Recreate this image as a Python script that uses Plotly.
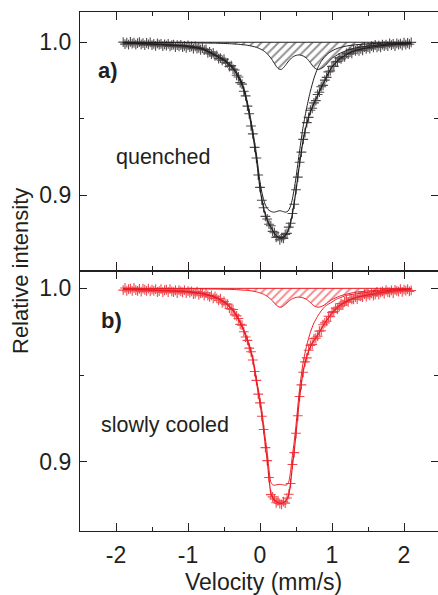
import plotly.graph_objects as go

# ---------------- data ----------------
velocity = [
    -1.900, -1.875, -1.850, -1.825, -1.800, -1.775, -1.750, -1.725, -1.700, -1.675,
    -1.650, -1.625, -1.600, -1.575, -1.550, -1.525, -1.500, -1.475, -1.450, -1.425,
    -1.400, -1.375, -1.350, -1.325, -1.300, -1.275, -1.250, -1.225, -1.200, -1.175,
    -1.150, -1.125, -1.100, -1.075, -1.050, -1.025, -1.000, -0.975, -0.950, -0.925,
    -0.900, -0.875, -0.850, -0.825, -0.800, -0.775, -0.750, -0.725, -0.700, -0.675,
    -0.650, -0.625, -0.600, -0.575, -0.550, -0.525, -0.500, -0.475, -0.450, -0.425,
    -0.400, -0.375, -0.350, -0.325, -0.300, -0.275, -0.250, -0.225, -0.200, -0.175,
    -0.150, -0.125, -0.100, -0.075, -0.050, -0.025, 0.000, 0.025, 0.050, 0.075,
    0.100, 0.125, 0.150, 0.175, 0.200, 0.225, 0.250, 0.275, 0.300, 0.325,
    0.350, 0.375, 0.400, 0.425, 0.450, 0.475, 0.500, 0.525, 0.550, 0.575,
    0.600, 0.625, 0.650, 0.675, 0.700, 0.725, 0.750, 0.775, 0.800, 0.825,
    0.850, 0.875, 0.900, 0.925, 0.950, 0.975, 1.000, 1.025, 1.050, 1.075,
    1.100, 1.125, 1.150, 1.175, 1.200, 1.225, 1.250, 1.275, 1.300, 1.325,
    1.350, 1.375, 1.400, 1.425, 1.450, 1.475, 1.500, 1.525, 1.550, 1.575,
    1.600, 1.625, 1.650, 1.675, 1.700, 1.725, 1.750, 1.775, 1.800, 1.825,
    1.850, 1.875, 1.900, 1.925, 1.950, 1.975, 2.000, 2.025, 2.050, 2.075,
    2.100,
]

quenched_data = [
    1.0001, 0.9988, 0.9997, 0.9984, 1.0002, 0.9991, 0.9997, 0.9984, 0.9994, 1.0001,
    0.9986, 0.9994, 0.9981, 0.9996, 0.9986, 0.9999, 0.9981, 0.9989, 0.9976, 0.9993,
    0.9984, 0.9990, 0.9975, 0.9986, 0.9978, 0.9990, 0.9973, 0.9981, 0.9985, 0.9969,
    0.9981, 0.9973, 0.9983, 0.9969, 0.9976, 0.9963, 0.9979, 0.9968, 0.9973, 0.9958,
    0.9973, 0.9958, 0.9963, 0.9951, 0.9961, 0.9949, 0.9953, 0.9930, 0.9937, 0.9922,
    0.9930, 0.9911, 0.9914, 0.9893, 0.9896, 0.9881, 0.9889, 0.9866, 0.9865, 0.9841,
    0.9847, 0.9824, 0.9818, 0.9784, 0.9773, 0.9736, 0.9726, 0.9679, 0.9649, 0.9582,
    0.9532, 0.9452, 0.9400, 0.9312, 0.9242, 0.9131, 0.9050, 0.8966, 0.8917, 0.8860,
    0.8843, 0.8809, 0.8799, 0.8762, 0.8753, 0.8723, 0.8729, 0.8707, 0.8721, 0.8716,
    0.8742, 0.8749, 0.8790, 0.8815, 0.8879, 0.8940, 0.9035, 0.9117, 0.9215, 0.9281,
    0.9364, 0.9408, 0.9474, 0.9508, 0.9555, 0.9568, 0.9603, 0.9618, 0.9658, 0.9673,
    0.9709, 0.9718, 0.9752, 0.9770, 0.9806, 0.9812, 0.9842, 0.9842, 0.9871, 0.9875,
    0.9898, 0.9891, 0.9906, 0.9905, 0.9927, 0.9922, 0.9936, 0.9928, 0.9950, 0.9943,
    0.9954, 0.9944, 0.9957, 0.9947, 0.9969, 0.9957, 0.9968, 0.9958, 0.9975, 0.9967,
    0.9982, 0.9967, 0.9977, 0.9967, 0.9985, 0.9975, 0.9985, 0.9974, 0.9992, 0.9981,
    0.9990, 0.9975, 0.9993, 0.9985, 0.9991, 0.9980, 0.9998, 0.9984, 0.9996, 0.9987,
    0.9999,
]

slowly_data = [
    0.9990, 1.0002, 0.9985, 0.9996, 0.9999, 0.9986, 1.0002, 0.9990, 0.9986, 0.9997,
    0.9981, 0.9998, 0.9992, 0.9986, 0.9999, 0.9982, 0.9993, 0.9986, 0.9995, 0.9979,
    0.9984, 0.9995, 0.9978, 0.9989, 0.9992, 0.9979, 0.9995, 0.9983, 0.9978, 0.9989,
    0.9973, 0.9990, 0.9983, 0.9977, 0.9990, 0.9973, 0.9984, 0.9976, 0.9983, 0.9967,
    0.9970, 0.9981, 0.9962, 0.9973, 0.9974, 0.9958, 0.9973, 0.9958, 0.9951, 0.9960,
    0.9942, 0.9954, 0.9942, 0.9931, 0.9940, 0.9917, 0.9924, 0.9909, 0.9909, 0.9884,
    0.9879, 0.9878, 0.9847, 0.9841, 0.9826, 0.9792, 0.9788, 0.9750, 0.9719, 0.9700,
    0.9655, 0.9634, 0.9587, 0.9520, 0.9469, 0.9390, 0.9339, 0.9262, 0.9186, 0.9081,
    0.9006, 0.8909, 0.8810, 0.8797, 0.8785, 0.8763, 0.8774, 0.8758, 0.8754, 0.8769,
    0.8761, 0.8790, 0.8812, 0.8874, 0.8984, 0.9052, 0.9164, 0.9265, 0.9376, 0.9443,
    0.9516, 0.9576, 0.9599, 0.9643, 0.9671, 0.9677, 0.9710, 0.9713, 0.9724, 0.9753,
    0.9755, 0.9790, 0.9801, 0.9810, 0.9839, 0.9836, 0.9861, 0.9866, 0.9886, 0.9880,
    0.9894, 0.9913, 0.9903, 0.9922, 0.9931, 0.9922, 0.9944, 0.9936, 0.9936, 0.9950,
    0.9938, 0.9957, 0.9954, 0.9950, 0.9967, 0.9952, 0.9966, 0.9960, 0.9971, 0.9958,
    0.9966, 0.9979, 0.9964, 0.9977, 0.9982, 0.9970, 0.9989, 0.9978, 0.9976, 0.9988,
    0.9973, 0.9991, 0.9986, 0.9981, 0.9996, 0.9980, 0.9993, 0.9987, 0.9996, 0.9982,
    0.9988,
]

fit_velocity = [
    -1.9, -1.6, -1.3, -1.0, -0.8, -0.65, -0.5, -0.45, -0.4, -0.35, -0.3, -0.25, -0.2, -0.15, -0.1, -0.05,
    0.0, 0.025, 0.05, 0.075, 0.1, 0.125, 0.15, 0.175, 0.2, 0.225, 0.25, 0.275, 0.3, 0.325, 0.35, 0.375,
    0.4, 0.425, 0.45, 0.475, 0.5,
    0.55, 0.6, 0.65, 0.7, 0.75, 0.8, 0.85, 0.9, 0.95, 1.0, 1.05, 1.1, 1.2, 1.3, 1.45, 1.6, 1.8, 2.1,
]

quenched_total = [
    0.9995, 0.9990, 0.9982, 0.9972, 0.9955, 0.9920, 0.9880, 0.9860, 0.9840, 0.9810, 0.9770, 0.9720, 0.9640, 0.9530, 0.9393, 0.9237,
    0.9042, 0.8971, 0.8914, 0.8870, 0.8837, 0.8811, 0.8790, 0.8769, 0.8749, 0.8734, 0.8724, 0.8719, 0.8718, 0.8724, 0.8735, 0.8753,
    0.8780, 0.8821, 0.8877, 0.8949, 0.9029,
    0.9207, 0.9360, 0.9469, 0.9546, 0.9600, 0.9651, 0.9703, 0.9750, 0.9798, 0.9838, 0.9865, 0.9889, 0.9920, 0.9942, 0.9960, 0.9972, 0.9983, 0.9991,
]
quenched_main = [
    0.9996, 0.9992, 0.9984, 0.9975, 0.9960, 0.9926, 0.9888, 0.9869, 0.9850, 0.9822, 0.9783, 0.9736, 0.9658, 0.9552, 0.9420, 0.9270,
    0.9085, 0.9020, 0.8970, 0.8935, 0.8912, 0.8900, 0.8893, 0.8889, 0.8888, 0.8891, 0.8895, 0.8897, 0.8895, 0.8891, 0.8888, 0.8890,
    0.8902, 0.8930, 0.8975, 0.9040, 0.9115,
    0.9290, 0.9450, 0.9575, 0.9680, 0.9765, 0.9830, 0.9875, 0.9905, 0.9928, 0.9943, 0.9955, 0.9964, 0.9975, 0.9982, 0.9988, 0.9992, 0.9995, 0.9997,
]
quenched_minor = [
    0.9999, 0.9998, 0.9998, 0.9997, 0.9995, 0.9994, 0.9992, 0.9991, 0.9990, 0.9988, 0.9987, 0.9984, 0.9982, 0.9978, 0.9973, 0.9967,
    0.9957, 0.9951, 0.9944, 0.9935, 0.9925, 0.9911, 0.9897, 0.9880, 0.9861, 0.9843, 0.9829, 0.9822, 0.9823, 0.9833, 0.9847, 0.9863,
    0.9878, 0.9891, 0.9902, 0.9909, 0.9914,
    0.9917, 0.9910, 0.9894, 0.9866, 0.9835, 0.9821, 0.9828, 0.9845, 0.9870, 0.9895, 0.9910, 0.9925, 0.9945, 0.9960, 0.9972, 0.9980, 0.9988, 0.9994,
]

slowly_total = [
    0.9994, 0.9991, 0.9986, 0.9980, 0.9968, 0.9952, 0.9920, 0.9903, 0.9883, 0.9856, 0.9820, 0.9778, 0.9725, 0.9665, 0.9586, 0.9460,
    0.9335, 0.9265, 0.9180, 0.9090, 0.9010, 0.8901, 0.8819, 0.8794, 0.8779, 0.8770, 0.8764, 0.8760, 0.8760, 0.8764, 0.8771, 0.8783,
    0.8811, 0.8879, 0.8975, 0.9060, 0.9160,
    0.9370, 0.9520, 0.9608, 0.9665, 0.9700, 0.9730, 0.9765, 0.9800, 0.9830, 0.9857, 0.9880, 0.9898, 0.9925, 0.9942, 0.9958, 0.9970, 0.9982, 0.9992,
]
slowly_main = [
    0.9995, 0.9992, 0.9987, 0.9982, 0.9971, 0.9956, 0.9925, 0.9909, 0.9889, 0.9863, 0.9828, 0.9788, 0.9736, 0.9678, 0.9602, 0.9480,
    0.9361, 0.9295, 0.9214, 0.9130, 0.9056, 0.8955, 0.8882, 0.8867, 0.8864, 0.8866, 0.8868, 0.8869, 0.8868, 0.8866, 0.8864, 0.8867,
    0.8885, 0.8945, 0.9035, 0.9116, 0.9212,
    0.9421, 0.9575, 0.9673, 0.9747, 0.9801, 0.9839, 0.9870, 0.9895, 0.9909, 0.9921, 0.9935, 0.9944, 0.9959, 0.9966, 0.9975, 0.9982, 0.9989, 0.9996,
]
slowly_minor = [
    0.9999, 0.9999, 0.9999, 0.9998, 0.9997, 0.9996, 0.9995, 0.9994, 0.9994, 0.9993, 0.9992, 0.9990, 0.9989, 0.9987, 0.9984, 0.9980,
    0.9974, 0.9970, 0.9966, 0.9960, 0.9954, 0.9946, 0.9937, 0.9927, 0.9915, 0.9904, 0.9896, 0.9891, 0.9892, 0.9898, 0.9907, 0.9916,
    0.9926, 0.9934, 0.9940, 0.9944, 0.9948,
    0.9949, 0.9945, 0.9935, 0.9918, 0.9899, 0.9891, 0.9895, 0.9905, 0.9921, 0.9936, 0.9945, 0.9954, 0.9966, 0.9976, 0.9983, 0.9988, 0.9993, 0.9996,
]

baseline = 1.0
x_tick_values = [-2, -1, 0, 1, 2]
x_tick_labels = ["-2", "-1", "0", "1", "2"]
y_tick_values = [0.9, 1.0]
y_tick_labels = ["0.9", "1.0"]
panel_labels = ["a)", "b)"]
sample_labels = ["quenched", "slowly cooled"]
x_title = "Velocity (mm/s)"
y_title = "Relative intensity"

# ---------------- style ----------------
W, H = 438, 595
FONT = "Liberation Sans, Arial, sans-serif"
INK = "#231f20"
RED = "#ec1c24"


def px(x):
    return x / W


def py(y):
    return 1 - y / H


fig = go.Figure()

panels = [
    ("x", "y", INK, quenched_data, quenched_total, quenched_main, quenched_minor),
    ("x2", "y2", RED, slowly_data, slowly_total, slowly_main, slowly_minor),
]

for xa, ya, col, data, total, main, minor in panels:
    fig.add_trace(go.Scatter(
        x=[fit_velocity[0], fit_velocity[-1]], y=[baseline, baseline],
        mode="lines", line=dict(color=col, width=1), xaxis=xa, yaxis=ya,
        showlegend=False, hoverinfo="skip"))
    fig.add_trace(go.Scatter(
        x=fit_velocity, y=minor, mode="lines",
        line=dict(color=col, width=1, shape="spline", smoothing=0.6),
        fill="tonexty", fillcolor="rgba(0,0,0,0)",
        fillpattern=dict(shape="/", fgcolor=col, size=6, solidity=0.32),
        xaxis=xa, yaxis=ya, showlegend=False))
    fig.add_trace(go.Scatter(
        x=fit_velocity, y=main, mode="lines",
        line=dict(color=col, width=1, shape="spline", smoothing=0.6),
        xaxis=xa, yaxis=ya, showlegend=False))
    fig.add_trace(go.Scatter(
        x=fit_velocity, y=total, mode="lines",
        line=dict(color=col, width=1.2, shape="spline", smoothing=0.6),
        xaxis=xa, yaxis=ya, showlegend=False))
    fig.add_trace(go.Scatter(
        x=velocity, y=data, mode="markers",
        marker=dict(symbol="cross-thin", size=7, color=col,
                    line=dict(width=1.1, color=col)),
        opacity=0.8, xaxis=xa, yaxis=ya, showlegend=False))

x_common = dict(
    domain=[px(80), 1.0], range=[-2.5, 2.472],
    tickmode="array", tickvals=x_tick_values, ticktext=x_tick_labels,
    ticks="inside", ticklen=8, tickwidth=1.2, tickcolor=INK,
    minor=dict(dtick=0.5, tick0=0, ticks="inside", ticklen=4, tickwidth=1.2, tickcolor=INK),
    showline=True, linecolor=INK, linewidth=1.2, mirror="ticks",
    showgrid=False, zeroline=False,
    tickfont=dict(family=FONT, size=23, color=INK),
)
y_common = dict(
    tickmode="array", tickvals=y_tick_values, ticktext=y_tick_labels,
    ticks="inside", ticklen=7, tickwidth=1.2, tickcolor=INK,
    minor=dict(dtick=0.05, tick0=0.9, ticks="inside", ticklen=4, tickwidth=1.2, tickcolor=INK),
    showline=True, linecolor=INK, linewidth=1.2, mirror="ticks",
    showgrid=False, zeroline=False, ticklabelstandoff=3,
    tickfont=dict(family=FONT, size=23, color=INK),
)

fig.update_layout(
    width=W, height=H,
    margin=dict(l=0, r=0, t=0, b=0),
    paper_bgcolor="white", plot_bgcolor="white",
    xaxis=dict(**x_common, anchor="y", showticklabels=False),
    xaxis2=dict(**x_common, anchor="y2", showticklabels=True, ticklabelstandoff=3),
    yaxis=dict(**y_common, domain=[py(270.5), py(12)], range=[0.8506, 1.0198], anchor="x"),
    yaxis2=dict(**y_common, domain=[py(531), py(270.5)], range=[0.8600, 1.0103], anchor="x2"),
    showlegend=False,
)

ann = []
ann.append(dict(text="<b>%s</b>" % panel_labels[0], x=px(96), y=py(70), xanchor="left", yanchor="middle",
                font=dict(family=FONT, size=22, color=INK)))
ann.append(dict(text="<b>%s</b>" % panel_labels[1], x=px(99), y=py(320), xanchor="left", yanchor="middle",
                font=dict(family=FONT, size=22, color=INK)))
ann.append(dict(text=sample_labels[0], x=px(114), y=py(157), xanchor="left", yanchor="middle",
                font=dict(family=FONT, size=21.5, color=INK)))
ann.append(dict(text=sample_labels[1], x=px(99), y=py(425), xanchor="left", yanchor="middle",
                font=dict(family=FONT, size=21.5, color=INK)))
ann.append(dict(text=x_title, x=px(263), y=py(582), xanchor="center", yanchor="middle",
                font=dict(family=FONT, size=23, color=INK)))
ann.append(dict(text=y_title, x=px(21), y=py(271), xanchor="center", yanchor="middle", textangle=-90,
                font=dict(family=FONT, size=22, color=INK)))
for a in ann:
    a.update(xref="paper", yref="paper", showarrow=False)
fig.update_layout(annotations=ann)

fig.write_html("out.html")
